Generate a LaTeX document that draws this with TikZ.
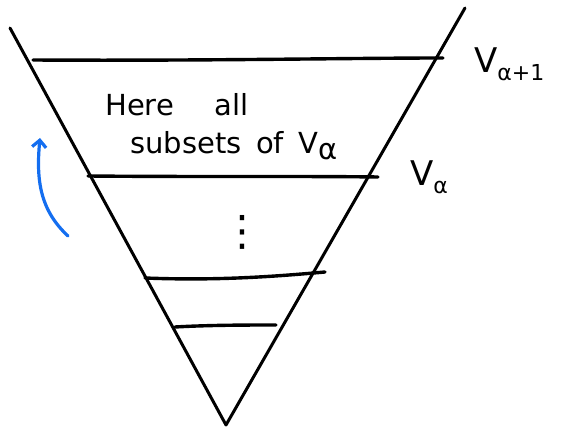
\documentclass[tikz,border=0pt]{standalone}
\usepackage{fontspec}
\setmainfont{DejaVu Sans}
\usetikzlibrary{arrows.meta}
\definecolor{penblue}{RGB}{20,110,240}
\newcommand{\Vsub}[1]{V\raisebox{-0.25em}{\fontsize{22}{22}\selectfont #1}}
\begin{document}
\begin{tikzpicture}[x=1pt,y=-1pt,
  stroke/.style={line width=3pt,line cap=round,line join=round,black},
  level/.style={line width=3.4pt,line cap=round,black},
  lbl/.style={inner sep=0pt,font=\fontsize{29}{32}\selectfont,anchor=west}]
\useasboundingbox (0,0) rectangle (563,430);
\coordinate (tl) at (10,28);
\coordinate (tr) at (465,8);
\coordinate (bot) at (226,425);
\draw[stroke] (tl) -- (bot) -- (tr);
\coordinate (a1) at (33,60); \coordinate (a2) at (443,58);
\coordinate (b1) at (88,176); \coordinate (b2) at (378,177);
\coordinate (c1) at (145,278); \coordinate (c2) at (325,272);
\coordinate (d1) at (175,327); \coordinate (d2) at (276,325);
\draw[level] (a1) .. controls (200,61) and (350,58) .. (a2);
\draw[level] (b1) .. controls (200,177) and (300,176) .. (b2);
\draw[level] (c1) .. controls (220,281) and (280,276) .. (c2);
\draw[level] (d1) .. controls (210,325) and (250,325) .. (d2);
\node[lbl,font=\fontsize{34}{36}\selectfont] (va1) at (474,64) {\Vsub{α+1}};
\node[lbl,font=\fontsize{34}{36}\selectfont] (va) at (410,177) {\Vsub{α}};
\node[lbl] (t1) at (105,105) {Here\hspace{1.4em}all};
\node[lbl] (t2) at (130,146) {subsets\hspace{0.5em}of\hspace{0.5em}V\raisebox{-0.2em}{α}};
\node[inner sep=0pt,font=\fontsize{42}{42}\selectfont] (dots) at (242,232) {⋮};
\coordinate (ae) at (68,236);
\coordinate (as) at (40,138);
\draw[line width=3.2pt,line cap=round,penblue,-{Straight Barb[length=7pt,width=14pt]}]
  (ae) .. controls (40,210) and (36,180) .. (as);
\end{tikzpicture}
\end{document}
